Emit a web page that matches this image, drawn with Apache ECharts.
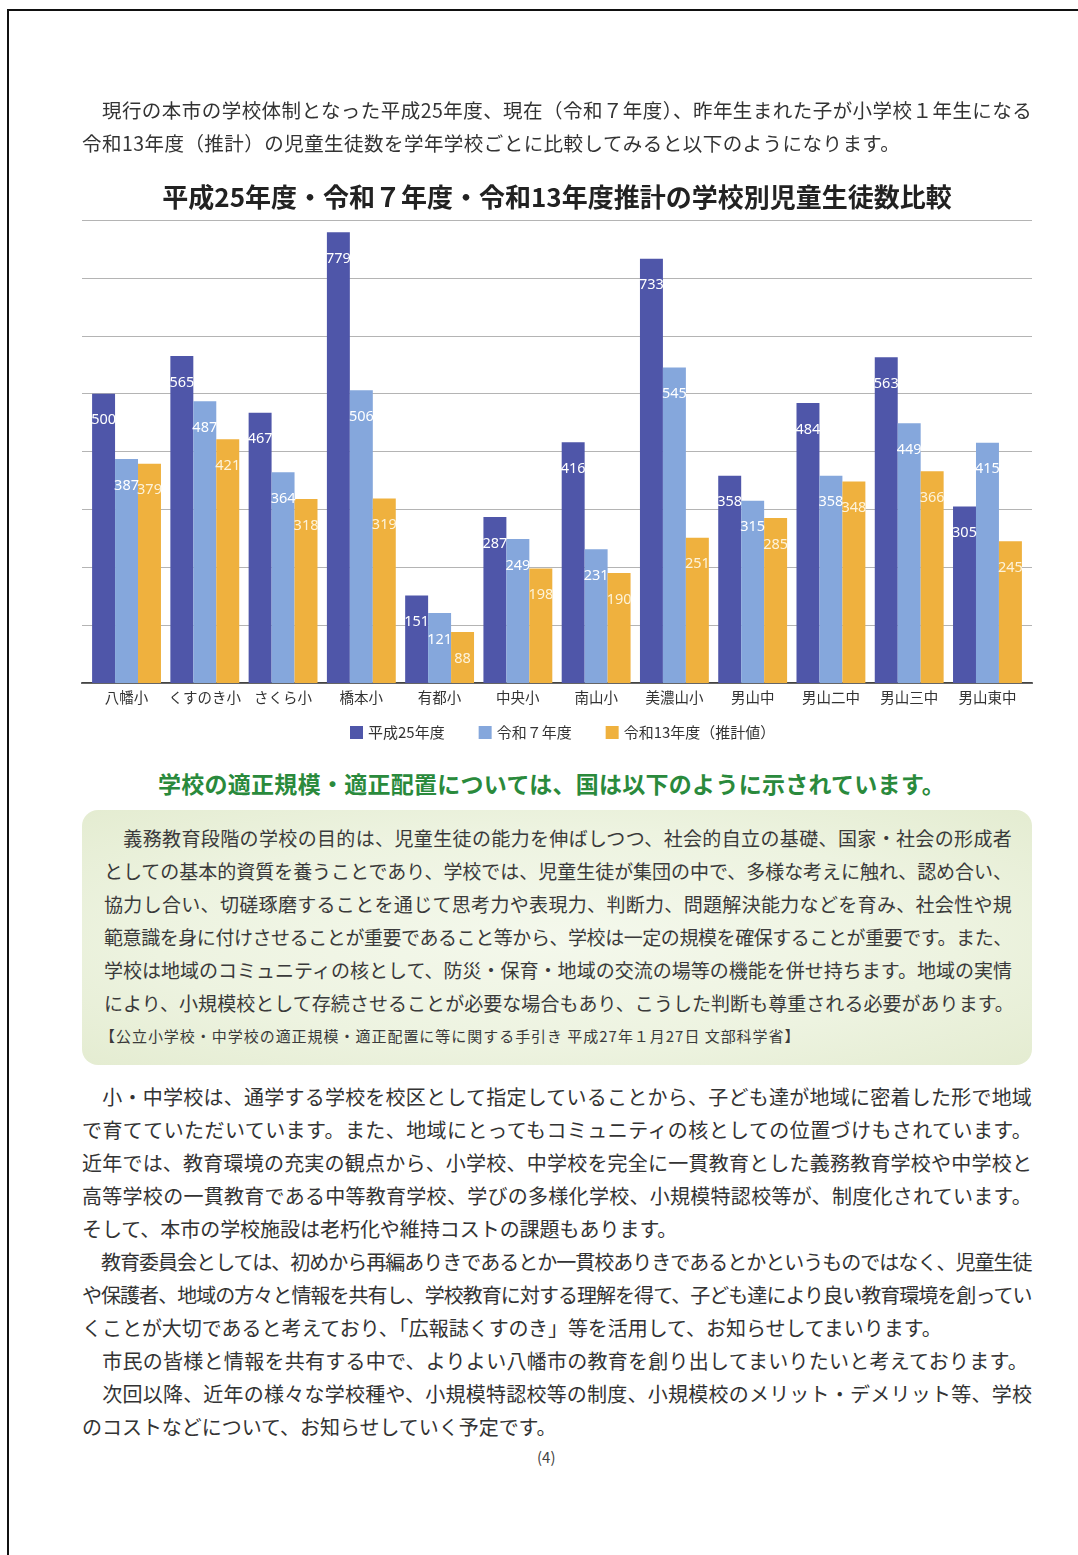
<!DOCTYPE html>
<html><head><meta charset="utf-8">
<script src="https://cdn.jsdelivr.net/npm/echarts@6/dist/echarts.min.js"></script>
<style>
html,body{margin:0;padding:0;background:#fff;}
body{width:1078px;height:1555px;position:relative;overflow:hidden;font-family:"Noto Sans CJK JP","Noto Sans",sans-serif;}
#frame{position:absolute;left:7px;top:9px;right:0;bottom:0;border-top:2px solid #111;border-left:2px solid #111;}
#box{position:absolute;left:82px;top:810px;width:950px;height:255px;border-radius:16px;
 background:radial-gradient(ellipse at 50% 50%,#f4f8ec 0%,#edf3e0 60%,#e4ecd1 100%);}
.ln{position:absolute;white-space:nowrap;z-index:3;}
#chart{position:absolute;left:0;top:0;width:1078px;height:760px;z-index:2;}
</style></head>
<body>
<div id="frame"></div>
<div id="box"></div>
<div id="chart"></div>
<script>
// ---- data ----
const categories = ['八幡小','くすのき小','さくら小','橋本小','有都小','中央小','南山小','美濃山小','男山中','男山二中','男山三中','男山東中'];
const seriesNames = ['平成25年度','令和７年度','令和13年度（推計値）'];
const h25 = [500,565,467,779,151,287,416,733,358,484,563,305];
const r7  = [387,487,364,506,121,249,231,545,315,358,449,415];
const r13 = [379,421,318,319,88,198,190,251,285,348,366,245];
const yTicks = [0,100,200,300,400,500,600,700,800];

// ---- page text ----
const C='#333';
const lines = [
 {g:'p1',t:'　現行の本市の学校体制となった平成25年度、現在（令和７年度）、昨年生まれた子が小学校１年生になる',x:82,y:110,s:19.5,w:950},
 {g:'p1',t:'令和13年度（推計）の児童生徒数を学年学校ごとに比較してみると以下のようになります。',x:82,y:143,s:19.5},
 {t:'学校の適正規模・適正配置については、国は以下のように示されています。',x:158,y:783,s:23,w:787,c:'#2a8a3c',b:1},
 {g:'bx',t:'　義務教育段階の学校の目的は、児童生徒の能力を伸ばしつつ、社会的自立の基礎、国家・社会の形成者',x:104,y:838,s:19,w:908,c:'#3a3a3a'},
 {g:'bx',t:'としての基本的資質を養うことであり、学校では、児童生徒が集団の中で、多様な考えに触れ、認め合い、',x:104,y:871,s:19,w:908,c:'#3a3a3a'},
 {g:'bx',t:'協力し合い、切磋琢磨することを通じて思考力や表現力、判断力、問題解決能力などを育み、社会性や規',x:104,y:904,s:19,w:908,c:'#3a3a3a'},
 {g:'bx',t:'範意識を身に付けさせることが重要であること等から、学校は一定の規模を確保することが重要です。また、',x:104,y:937,s:19,w:908,c:'#3a3a3a'},
 {g:'bx',t:'学校は地域のコミュニティの核として、防災・保育・地域の交流の場等の機能を併せ持ちます。地域の実情',x:104,y:970,s:19,w:908,c:'#3a3a3a'},
 {g:'bx',t:'により、小規模校として存続させることが必要な場合もあり、こうした判断も尊重される必要があります。',x:104,y:1003,s:19,c:'#3a3a3a'},
 {t:'【公立小学校・中学校の適正規模・適正配置に等に関する手引き 平成27年１月27日 文部科学省】',x:100,y:1036,s:15,w:700,c:'#3a3a3a'},
 {g:'p2',t:'　小・中学校は、通学する学校を校区として指定していることから、子ども達が地域に密着した形で地域',x:82,y:1097,s:20,w:950},
 {g:'p2',t:'で育てていただいています。また、地域にとってもコミュニティの核としての位置づけもされています。',x:82,y:1130,s:20,w:950},
 {g:'p2',t:'近年では、教育環境の充実の観点から、小学校、中学校を完全に一貫教育とした義務教育学校や中学校と',x:82,y:1163,s:20,w:950},
 {g:'p2',t:'高等学校の一貫教育である中等教育学校、学びの多様化学校、小規模特認校等が、制度化されています。',x:82,y:1196,s:20,w:950},
 {g:'p2',t:'そして、本市の学校施設は老朽化や維持コストの課題もあります。',x:82,y:1229,s:20},
 {g:'p2',t:'　教育委員会としては、初めから再編ありきであるとか一貫校ありきであるとかというものではなく、児童生徒',x:82,y:1262,s:20,w:950},
 {g:'p2',t:'や保護者、地域の方々と情報を共有し、学校教育に対する理解を得て、子ども達により良い教育環境を創ってい',x:82,y:1295,s:20,w:950},
 {g:'p2',t:'くことが大切であると考えており、「広報誌くすのき」等を活用して、お知らせしてまいります。',x:82,y:1328,s:20},
 {g:'p2',t:'　市民の皆様と情報を共有する中で、よりよい八幡市の教育を創り出してまいりたいと考えております。',x:82,y:1361,s:20,w:946},
 {g:'p2',t:'　次回以降、近年の様々な学校種や、小規模特認校等の制度、小規模校のメリット・デメリット等、学校',x:82,y:1394,s:20,w:950},
 {g:'p2',t:'のコストなどについて、お知らせしていく予定です。',x:82,y:1427,s:20},
 {t:'(4)',x:537,y:1457,s:15,c:'#444'}
];
const groupLS = {};
const els = [];
lines.forEach(l=>{
  const d=document.createElement('div');
  d.className='ln';
  d.textContent=l.t;
  const lh=l.s*1.5;
  d.style.cssText=`left:${l.x}px;top:${l.y-lh/2}px;font-size:${l.s}px;line-height:${lh}px;color:${l.c||C};font-weight:${l.b?'bold':'normal'}`;
  document.body.appendChild(d);
  els.push([l,d]);
});
els.forEach(([l,d])=>{
  if(l.w){
    const nat=d.getBoundingClientRect().width;
    const n=[...l.t].length;
    const ls=(l.w-nat)/(n-0.5);
    d.style.letterSpacing=ls+'px';
    if(l.g){(groupLS[l.g]=groupLS[l.g]||[]).push(ls);}
  }
});
els.forEach(([l,d])=>{
  if(!l.w && l.g && groupLS[l.g]){
    const a=groupLS[l.g];
    d.style.letterSpacing=(a.reduce((s,v)=>s+v,0)/a.length)+'px';
  }
});

// ---- chart ----
const colors=['#4F56A9','#85A7DC','#EFB13E'];
const chart=echarts.init(document.getElementById('chart'),null,{renderer:'canvas'});
const labelCfg=(col)=>({show:true,position:'insideTop',distance:19,color:col,fontSize:14.5,fontFamily:'"Noto Sans",sans-serif'});
chart.setOption({
  animation:false,
  backgroundColor:'transparent',
  title:{text:'平成25年度・令和７年度・令和13年度推計の学校別児童生徒数比較',left:552,top:179,textAlign:'center',
    textStyle:{fontSize:26,fontWeight:'bold',color:'#222',fontFamily:'"Noto Sans CJK JP",sans-serif'}},
  legend:{data:seriesNames,left:345,top:720,itemWidth:13,itemHeight:13,itemGap:34,icon:'rect',
    textStyle:{fontSize:15,color:'#333',fontFamily:'"Noto Sans CJK JP",sans-serif'}},
  grid:[
    {left:82,top:220,width:950,height:463},
    {left:87.4,top:220,width:939.2,height:463}
  ],
  xAxis:[
    {gridIndex:0,type:'value',position:'top',min:0,max:1,show:true,axisLine:{show:true,lineStyle:{color:'#444',width:2}},axisTick:{show:false},axisLabel:{show:false},splitLine:{show:false}},
    {gridIndex:0,type:'value',position:'bottom',min:0,max:1,show:true,axisLine:{show:true,lineStyle:{color:'#666',width:1.2}},axisTick:{show:false},axisLabel:{show:false},splitLine:{show:false}},
    {gridIndex:1,type:'category',data:categories,axisLine:{show:false},axisTick:{show:false},
     axisLabel:{interval:0,margin:7,fontSize:14.5,color:'#333',fontFamily:'"Noto Sans CJK JP",sans-serif'}}
  ],
  yAxis:[
    {gridIndex:0,type:'value',min:yTicks[0],max:yTicks[yTicks.length-1],interval:100,axisLine:{show:false},axisTick:{show:false},axisLabel:{show:false},
     splitLine:{show:true,lineStyle:{color:'#b4b4b4',width:1}}},
    {gridIndex:1,type:'value',min:yTicks[0],max:yTicks[yTicks.length-1],interval:100,show:false,splitLine:{show:false}}
  ],
  series:[
    {name:seriesNames[0],type:'bar',xAxisIndex:2,yAxisIndex:1,data:h25,barGap:'0%',barCategoryGap:'12%',itemStyle:{color:colors[0]},label:labelCfg('#ffffff')},
    {name:seriesNames[1],type:'bar',xAxisIndex:2,yAxisIndex:1,data:r7,barGap:'0%',barCategoryGap:'12%',itemStyle:{color:colors[1]},label:labelCfg('#ffffff')},
    {name:seriesNames[2],type:'bar',xAxisIndex:2,yAxisIndex:1,data:r13,barGap:'0%',barCategoryGap:'12%',itemStyle:{color:colors[2]},label:labelCfg('#fdf3da')}
  ]
});
</script>
</body></html>
